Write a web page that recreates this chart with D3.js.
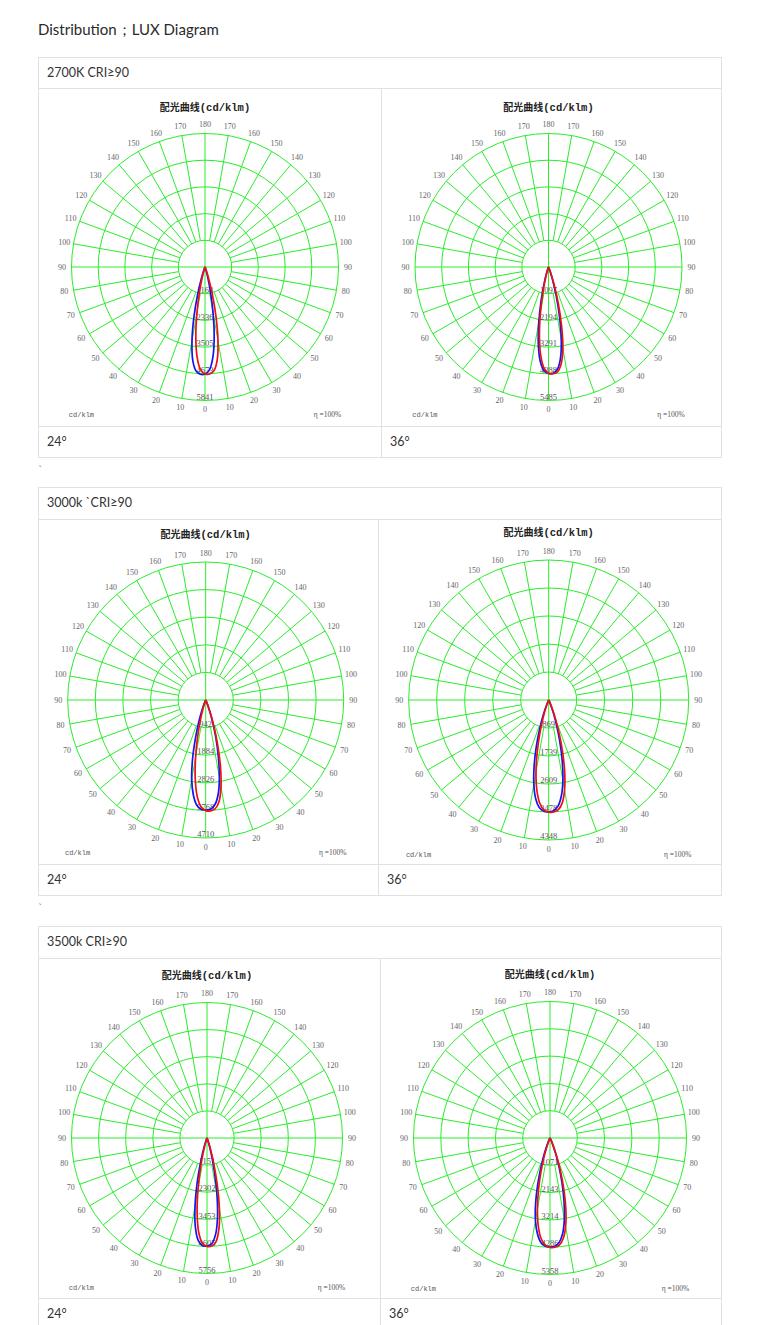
<!DOCTYPE html>
<html>
<head>
<meta charset="utf-8">
<script src="https://cdn.jsdelivr.net/npm/d3@7/dist/d3.min.js"></script>
<style>
    html, body { margin: 0; padding: 0; background: #fff; }
    svg { display: block; }
</style>
</head>
<body>
<svg id="page" width="777" height="1325"></svg>
<script>
// angles from nadir in degrees, + is the right half of the diagram
var angles = [-40, -30, -25, -20, -17.5, -15, -12.5, -10, -7.5, -5, -2.5, 0, 2.5, 5, 7.5, 10, 12.5, 15, 17.5, 20, 25, 30, 40];

var groupTitles = ['2700K CRI≥90', '3000k `CRI≥90', '3500k CRI≥90'];
var beamLabels = ['24°', '36°'];

// outer ring value of every diagram (cd/klm)
var maxValues = [5841, 5485, 4710, 4348, 5756, 5358];

var ringLabels = [
    ['1168', '2336', '3505', '4673', '5841'],
    ['1097', '2194', '3291', '4388', '5485'],
    ['942', '1884', '2826', '3768', '4710'],
    ['869', '1739', '2609', '3478', '4348'],
    ['1151', '2302', '3453', '4605', '5756'],
    ['1071', '2143', '3214', '4286', '5358']
];

// C0-C180 plane (blue)
var bluePlane = [
    [0, 0, 8, 186, 545, 1247, 2228, 3276, 4108, 4557, 4695, 4684, 4503, 3962, 3079, 2019, 1074, 455, 141, 34, 1, 0, 0],
    [0, 0, 3, 76, 263, 675, 1375, 2285, 3200, 3890, 4262, 4376, 4367, 4215, 3777, 3027, 2097, 1217, 572, 208, 12, 0, 0],
    [0, 3, 51, 380, 778, 1354, 2080, 2750, 3252, 3589, 3736, 3760, 3736, 3589, 3252, 2690, 2000, 1354, 778, 380, 51, 3, 0],
    [0, 7, 84, 488, 910, 1470, 2087, 2659, 3093, 3353, 3459, 3475, 3444, 3308, 3006, 2537, 1942, 1324, 789, 407, 63, 4, 0],
    [0, 0, 6, 137, 432, 1016, 1902, 2918, 3800, 4352, 4572, 4593, 4503, 4131, 3414, 2435, 1447, 696, 260, 73, 2, 0, 0],
    [0, 10, 116, 629, 1147, 1823, 2600, 3290, 3788, 4115, 4256, 4280, 4256, 4115, 3788, 3240, 2540, 1823, 1147, 629, 116, 10, 0]
];

// C90-C270 plane (red)
var redPlane = [
    [0, 0, 1, 34, 141, 455, 1072, 2015, 3073, 3954, 4494, 4675, 4686, 4548, 4100, 3269, 2224, 1244, 544, 186, 8, 0, 0],
    [0, 0, 1, 44, 169, 477, 1065, 1913, 2858, 3656, 4161, 4366, 4390, 4315, 4000, 3398, 2485, 1550, 795, 323, 24, 0, 0],
    [0, 0, 6, 100, 285, 660, 1255, 1992, 2728, 3309, 3646, 3775, 3788, 3726, 3491, 3005, 2323, 1565, 896, 424, 50, 2, 0],
    [0, 2, 33, 266, 572, 1042, 1640, 2270, 2819, 3210, 3415, 3481, 3482, 3421, 3222, 2838, 2295, 1665, 1064, 587, 107, 9, 0],
    [0, 0, 1, 44, 184, 535, 1222, 2185, 3213, 4029, 4469, 4605, 4594, 4416, 3886, 3020, 1980, 1053, 447, 138, 5, 0, 0],
    [0, 3, 51, 371, 767, 1358, 2087, 2848, 3505, 3971, 4213, 4291, 4291, 4218, 3981, 3526, 2878, 2117, 1383, 786, 157, 15, 0]
];

// page layout
var tables = [
    {top: 57, head: 31, body: 338, foot: 31, split: 381, cy: 179, cx: [205, 548.5], r: [133.5, 133.5]},
    {top: 487, head: 32, body: 345, foot: 31, split: 378, cy: 181, cx: [205.7, 548.7], r: [138, 140]},
    {top: 926, head: 32, body: 340, foot: 32, split: 380, cy: 180, cx: [207, 550], r: [135.5, 136.5]}
];
var tableLeft = 38.5, tableRight = 721.5;
var border = '#e1e1e1', textColor = '#333';
var gridColor = '#2aec2a', labelColor = '#666';

var svg = d3.select('#page');

svg.append('text')
    .attr('x', 38)
    .attr('y', 35)
    .attr('font-family', 'Lato, sans-serif')
    .attr('font-size', 15)
    .attr('fill', '#2a2a2a')
    .text('Distribution；LUX Diagram');

function drawPanel(g, idx, cx, cy, r) {
    var max = maxValues[idx];
    var rScale = d3.scaleLinear().domain([0, max]).range([0, r]);
    var ringVals = d3.range(1, 6).map(function (i) { return max * i / 5; });
    var p = g.append('g').attr('transform', 'translate(' + cx + ',' + cy + ')');

    // rings
    p.selectAll('circle.ring').data(ringVals).enter().append('circle')
        .attr('class', 'ring')
        .attr('r', function (d) { return rScale(d); })
        .attr('fill', 'none')
        .attr('stroke', gridColor)
        .attr('stroke-width', 1);

    // spokes every 10 degrees, the main axes run through the centre
    var spokes = d3.range(0, 360, 10);
    p.selectAll('line.spoke').data(spokes).enter().append('line')
        .attr('class', 'spoke')
        .each(function (a) {
            var rad = a * Math.PI / 180,
                r0 = (a % 90 === 0) ? 0 : rScale(ringVals[0]),
                sx = Math.sin(rad), sy = Math.cos(rad);
            d3.select(this)
                .attr('x1', sx * r0).attr('y1', sy * r0)
                .attr('x2', sx * r).attr('y2', sy * r);
        })
        .attr('stroke', gridColor)
        .attr('stroke-width', 1);

    // angle labels
    var angleTicks = [];
    d3.range(0, 190, 10).forEach(function (a) {
        angleTicks.push({a: a, s: 1});
        if (a !== 0 && a !== 180) angleTicks.push({a: a, s: -1});
    });
    p.selectAll('text.ang').data(angleTicks).enter().append('text')
        .attr('class', 'ang')
        .attr('x', function (d) { return d.s * Math.sin(d.a * Math.PI / 180) * (r + 9.5); })
        .attr('y', function (d) { return Math.cos(d.a * Math.PI / 180) * (r + 9); })
        .attr('text-anchor', 'middle')
        .attr('dominant-baseline', 'central')
        .attr('font-family', '"Liberation Serif", serif')
        .attr('font-size', 8)
        .attr('fill', labelColor)
        .text(function (d) { return d.a; });

    // ring values along the nadir axis
    p.selectAll('text.rv').data(ringVals).enter().append('text')
        .attr('class', 'rv')
        .attr('x', 0)
        .attr('y', function (d) { return rScale(d) - 0.8; })
        .attr('text-anchor', 'middle')
        .attr('font-family', '"Liberation Serif", serif')
        .attr('font-size', 8.5)
        .attr('fill', '#555')
        .text(function (d, i) { return ringLabels[idx][i]; });

    // curves
    var line = d3.lineRadial()
        .angle(function (d) { return Math.PI - d.a * Math.PI / 180; })
        .radius(function (d) { return rScale(d.v); })
        .curve(d3.curveCatmullRom);

    [[bluePlane, '#1414f0'], [redPlane, '#ee1010']].forEach(function (s) {
        var pts = angles.map(function (a, i) { return {a: a, v: s[0][idx][i]}; });
        p.append('path')
            .attr('d', line(pts))
            .attr('fill', 'none')
            .attr('stroke', s[1])
            .attr('stroke-width', 1.7)
            .attr('stroke-linejoin', 'round');
    });

    // chart title
    var title = p.append('text')
        .attr('x', 0)
        .attr('y', -1.2 * r + 4)
        .attr('text-anchor', 'middle')
        .attr('font-weight', 'bold')
        .attr('fill', '#222');
    title.append('tspan')
        .attr('font-family', '"Noto Sans CJK SC", sans-serif')
        .attr('font-size', 10)
        .text('配光曲线');
    title.append('tspan')
        .attr('font-family', '"Liberation Mono", monospace')
        .attr('font-size', 10.5)
        .text('(cd/klm)');

    p.append('text')
        .attr('x', -1.02 * r)
        .attr('y', 1.1 * r + 3)
        .attr('font-family', '"Liberation Mono", monospace')
        .attr('font-size', 7)
        .attr('fill', '#555')
        .text('cd/klm');

    p.append('text')
        .attr('x', 1.02 * r)
        .attr('y', 1.1 * r + 3)
        .attr('text-anchor', 'end')
        .attr('font-family', '"Liberation Serif", serif')
        .attr('font-size', 7.5)
        .attr('fill', '#555')
        .text('η =100%');
}

tables.forEach(function (t, ti) {
    var g = svg.append('g');
    var y0 = t.top + 0.5,
        y1 = t.top + t.head + 0.5,
        y2 = t.top + t.head + t.body + 0.5,
        y3 = t.top + t.head + t.body + t.foot + 0.5;

    g.append('rect')
        .attr('x', tableLeft).attr('y', y0)
        .attr('width', tableRight - tableLeft).attr('height', y3 - y0)
        .attr('fill', 'none').attr('stroke', border);

    [y1, y2].forEach(function (y) {
        g.append('line')
            .attr('x1', tableLeft).attr('x2', tableRight)
            .attr('y1', y).attr('y2', y)
            .attr('stroke', border);
    });

    g.append('line')
        .attr('x1', t.split + 0.5).attr('x2', t.split + 0.5)
        .attr('y1', y1).attr('y2', y3)
        .attr('stroke', border);

    g.append('text')
        .attr('x', 47).attr('y', t.top + 20)
        .attr('font-family', 'Lato, sans-serif')
        .attr('font-size', 12.5)
        .attr('fill', textColor)
        .text(groupTitles[ti]);

    [47, t.split + 9].forEach(function (x, ci) {
        g.append('text')
            .attr('x', x).attr('y', t.top + t.head + t.body + 20)
            .attr('font-family', 'Lato, sans-serif')
            .attr('font-size', 12.5)
            .attr('fill', textColor)
            .text(beamLabels[ci]);

        drawPanel(g, ti * 2 + ci, t.cx[ci], t.top + t.head + t.cy, t.r[ci]);
    });

    if (ti < tables.length - 1) {
        g.append('text')
            .attr('x', 38).attr('y', y3 + 16)
            .attr('font-family', 'Lato, sans-serif')
            .attr('font-size', 12)
            .attr('fill', '#888')
            .text('`');
    }
});
</script>
</body>
</html>
